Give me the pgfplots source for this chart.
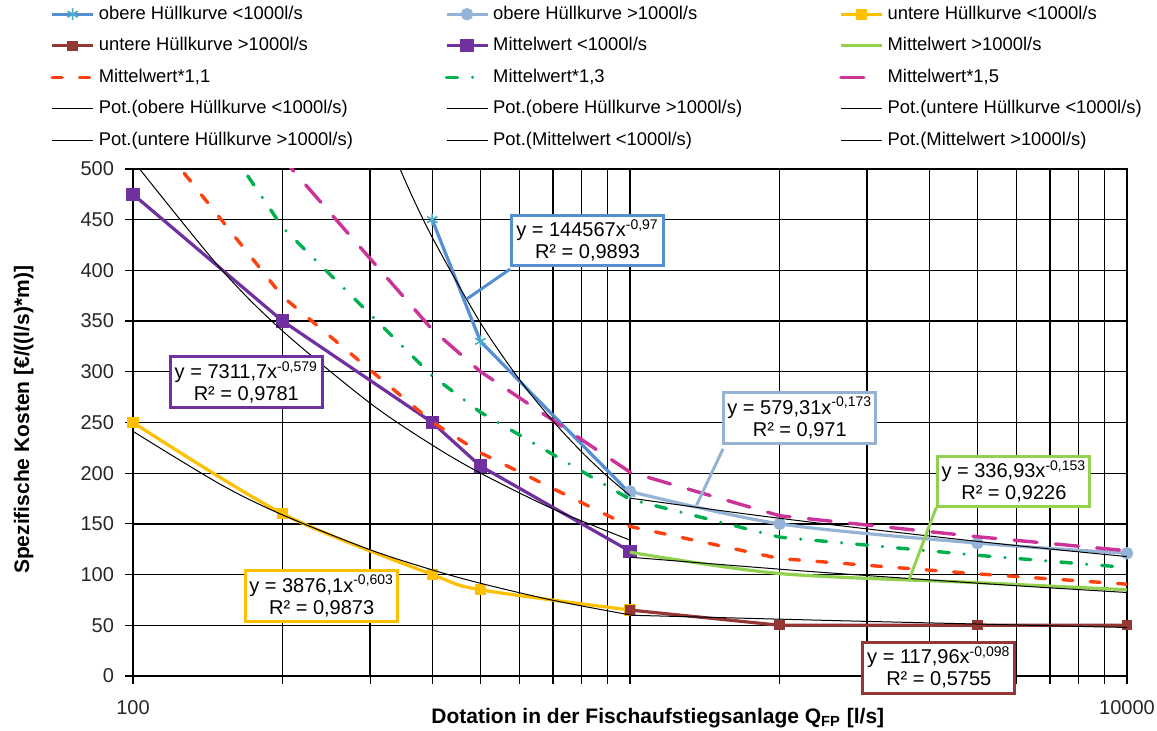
\documentclass[border=0pt]{standalone}
\usepackage{fontspec}
\setmainfont{Liberation Sans}
\usepackage{pgfplots}
\pgfplotsset{compat=1.18}
\definecolor{cOb1}{RGB}{85,142,213}
\definecolor{cOb1m}{RGB}{75,172,198}
\definecolor{cOb2}{RGB}{149,179,215}
\definecolor{cUn1}{RGB}{255,192,0}
\definecolor{cUn2}{RGB}{149,55,53}
\definecolor{cMw1}{RGB}{112,48,160}
\definecolor{cMw2}{RGB}{146,208,80}
\definecolor{cM11}{RGB}{255,64,16}
\definecolor{cM13}{RGB}{0,176,80}
\definecolor{cM15}{RGB}{204,51,153}
\tikzset{tlbox/.style={fill=white, line width=1.5pt, align=center, font=\fontsize{10}{11}\selectfont, minimum width=76pt, minimum height=25.3pt, inner sep=1pt}}
\begin{document}
\begin{tikzpicture}
\begin{axis}[
  scale only axis, width=497pt, height=253.5pt,
  xmode=log, xmin=100, xmax=10000, ymin=0, ymax=500,
  xtick={100,10000}, xticklabels={100,10000},
  minor xtick={200,300,400,500,600,700,800,900,1000,2000,3000,4000,5000,6000,7000,8000,9000},
  ytick={0,50,...,500},
  grid=both,
  major grid style={black, line width=0.65pt},
  minor grid style={black, line width=0.65pt},
  axis line style={black, line width=0.7pt},
  tick align=outside, xtick pos=bottom, ytick pos=left,
  major tick length=4pt, minor tick length=4pt,
  tick style={black, line width=0.6pt},
  minor tick style={black, line width=0.6pt},
  /pgf/number format/assume math mode=true,
  ticklabel style={font=\fontsize{10}{12}\selectfont, text=black!85},
  xticklabel style={yshift=-5pt},
  yticklabel style={xshift=-2pt},
  xlabel={Dotation in der Fischaufstiegsanlage Q\textsubscript{FP} [l/s]},
  ylabel={Spezifische Kosten [€/((l/s)*m)]},
  xlabel style={font=\bfseries\fontsize{10.5}{12}\selectfont, at={(axis description cs:0.528,-0.083)}, anchor=center},
  ylabel style={font=\bfseries\fontsize{10.5}{12}\selectfont, at={(axis description cs:-0.110,0.505)}, anchor=center},
  clip mode=individual,
  legend columns=3, legend cell align=left,
  legend style={at={(axis description cs:-0.0835,1.33)}, anchor=north west, draw=none, fill=none, font=\fontsize{9.2}{11}\selectfont, row sep=3.6pt, inner sep=0pt},
  legend image code/.code={\draw[mark repeat=2,mark phase=2,#1] plot coordinates {(0pt,0pt) (10.25pt,0pt) (20.5pt,0pt)};},
]
\addplot[cOb1, line width=1.6pt, mark=asterisk, mark size=3pt, mark options={cOb1m, line width=0.8pt}] coordinates {(400,450) (500,330) (1000,180)};
\addlegendentry{\makebox[171pt][l]{obere Hüllkurve <1000l/s}}
\addplot[cOb2, line width=1.6pt, smooth, mark=*, mark size=2.3pt, mark options={cOb2}] coordinates {(1000,182) (2000,150) (5000,131) (10000,121)};
\addlegendentry{\makebox[171pt][l]{obere Hüllkurve >1000l/s}}
\addplot[cUn1, line width=1.6pt, smooth, mark=square*, mark size=2pt] coordinates {(100,250) (200,160) (400,100) (500,85) (1000,65)};
\addlegendentry{untere Hüllkurve <1000l/s}
\addplot[cUn2, line width=1.6pt, mark=square*, mark size=1.8pt] coordinates {(1000,65) (2000,50) (5000,50) (10000,50)};
\addlegendentry{\makebox[171pt][l]{untere Hüllkurve >1000l/s}}
\addplot[cMw1, line width=1.6pt, mark=square*, mark size=2.5pt] coordinates {(100,475) (200,350) (400,250) (500,207) (1000,123)};
\addlegendentry{\makebox[171pt][l]{Mittelwert <1000l/s}}
\addplot[cMw2, line width=1.6pt, smooth] coordinates {(1000,122) (2000,101) (5000,92) (10000,85)};
\addlegendentry{Mittelwert >1000l/s}
\addplot[cM11, line width=1.7pt, line cap=round, dash pattern=on 5pt off 8.7pt] coordinates {(100,559.0) (200,374.2) (400,250.5) (500,220.1) (1000,147.4) (2000,115.8) (5000,100.7) (10000,90.5)};
\addlegendentry{\makebox[171pt][l]{Mittelwert*1,1}}
\addplot[cM13, line width=1.7pt, line cap=round, dash pattern=on 5.5pt off 7.5pt on 0pt off 7.5pt] coordinates {(100,660.7) (200,442.3) (400,296.0) (500,260.1) (1000,174.2) (2000,136.9) (5000,119.0) (10000,107.0)};
\addlegendentry{\makebox[171pt][l]{Mittelwert*1,3}}
\addplot[cM15, line width=1.7pt, line cap=round, dash pattern=on 11.5pt off 9.2pt] coordinates {(100,762.3) (200,510.3) (400,341.6) (500,300.2) (1000,201.0) (2000,158.0) (5000,137.3) (10000,123.5)};
\addlegendentry{Mittelwert*1,5}
% power trendlines
\addplot[black, line width=0.5pt, smooth] coordinates {(300,571.8) (350,492.4) (400,432.6) (500,348.4) (600,291.9) (700,251.4) (800,220.8) (900,197.0) (1000,177.8)};
\addlegendentry{\makebox[171pt][l]{Pot.(obere Hüllkurve <1000l/s)}}
\addplot[black, line width=0.5pt, smooth] coordinates {(1000,175.4) (1500,163.5) (2000,155.5) (3000,145.0) (5000,132.7) (7000,125.2) (10000,117.7)};
\addlegendentry{\makebox[171pt][l]{Pot.(obere Hüllkurve >1000l/s)}}
\addplot[black, line width=0.5pt, smooth] coordinates {(100,241.2) (150,188.9) (200,158.8) (300,124.4) (400,104.6) (500,91.4) (700,74.6) (1000,60.2)};
\addlegendentry{Pot.(untere Hüllkurve <1000l/s)}
\addplot[black, line width=0.5pt, smooth] coordinates {(1000,59.9) (2000,56.0) (3000,53.8) (5000,51.2) (7000,49.5) (10000,47.8)};
\addlegendentry{\makebox[171pt][l]{Pot.(untere Hüllkurve >1000l/s)}}
\addplot[black, line width=0.5pt, smooth] coordinates {(100,508.2) (150,401.8) (200,340.2) (300,269.0) (400,227.7) (500,200.1) (700,164.7) (1000,134.0)};
\addlegendentry{\makebox[171pt][l]{Pot.(Mittelwert <1000l/s)}}
\addplot[black, line width=0.5pt, smooth] coordinates {(1000,117.1) (2000,105.3) (3000,99.0) (5000,91.5) (7000,86.9) (10000,82.3)};
\addlegendentry{Pot.(Mittelwert >1000l/s)}
% leader lines
\draw[cOb1, line width=1.5pt] (rel axis cs:0.3795,0.8027) -- (rel axis cs:0.3359,0.7436);
\draw[cOb2, line width=1.5pt] (rel axis cs:0.5936,0.448) -- (rel axis cs:0.567,0.337);
\draw[cMw2, line width=1.5pt] (rel axis cs:0.808,0.332) -- (rel axis cs:0.781,0.191);
% trendline labels
\node[tlbox, draw=cOb1] at (rel axis cs:0.4573,0.8592) {y = 144567x\textsuperscript{-0,97}\\R² = 0,9893};
\node[tlbox, draw=cMw1] at (rel axis cs:0.1140,0.5797) {y = 7311,7x\textsuperscript{-0,579}\\R² = 0,9781};
\node[tlbox, draw=cOb2] at (rel axis cs:0.6708,0.5089) {y = 579,31x\textsuperscript{-0,173}\\R² = 0,971};
\node[tlbox, draw=cMw2] at (rel axis cs:0.8862,0.3838) {y = 336,93x\textsuperscript{-0,153}\\R² = 0,9226};
\node[tlbox, draw=cUn1] at (rel axis cs:0.1898,0.1580) {y = 3876,1x\textsuperscript{-0,603}\\R² = 0,9873};
\node[tlbox, draw=cUn2] at (rel axis cs:0.8107,0.0162) {y = 117,96x\textsuperscript{-0,098}\\R² = 0,5755};
\coordinate (bbsw) at (rel axis cs:-0.1338,-0.1085);
\coordinate (bbne) at (rel axis cs:1.0302,1.3333);
\end{axis}
\pgfresetboundingbox
\path[use as bounding box] (bbsw) rectangle (bbne);
\end{tikzpicture}
\end{document}
